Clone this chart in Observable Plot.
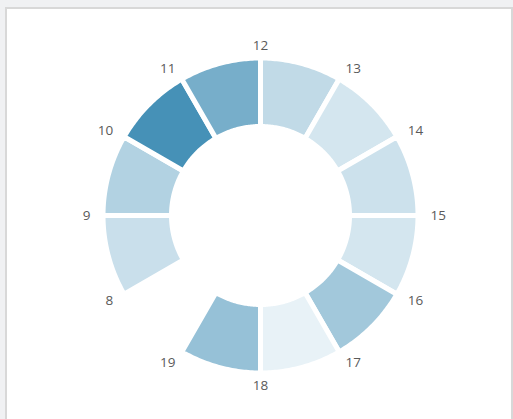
<!DOCTYPE html>
<html>
<head>
<meta charset="utf-8">
<script src="https://cdn.jsdelivr.net/npm/d3@7"></script>
<script src="https://cdn.jsdelivr.net/npm/@observablehq/plot@0.6"></script>
<style>
  html, body { margin: 0; padding: 0; background: #f0f1f3; width: 513px; height: 419px; overflow: hidden; }
  #panel { position: absolute; left: 5px; top: 7px; right: 0px; height: 440px; background: #fff; border: 2px solid #d8d8d8; border-bottom: none; box-sizing: border-box; }
  #chart { position: absolute; left: 0; top: 0; }
</style>
</head>
<body>
<div id="panel"></div>
<div id="chart"></div>
<script>
// Hours of the day (segment h spans h -> h+1); hour 19 has no data
const hours  = [8, 9, 10, 11, 12, 13, 14, 15, 16, 17, 18];
const values = [20, 34, 100, 70, 25, 13, 18, 13, 44, 1, 51];
// Tick labels around the ring
const tickHours = [8, 9, 10, 11, 12, 13, 14, 15, 16, 17, 18, 19];

const W = 513, H = 419;
const cx = 260, cy = 215;          // ring centre in pixels
const rOuter = 157.5, rInner = 89, rLabel = 170;
const angleOf = h => (h - 12) * Math.PI / 6;   // clockwise from top

// Build polygon outlines of each ring segment from the data
const poly = [];
hours.forEach((h, i) => {
  const a0 = angleOf(h), a1 = angleOf(h + 1), n = 40;
  for (let k = 0; k <= n; k++) {
    const a = a0 + (a1 - a0) * k / n;
    poly.push({id: h, value: values[i], x: rOuter * Math.sin(a), y: rOuter * Math.cos(a)});
  }
  for (let k = n; k >= 0; k--) {
    const a = a0 + (a1 - a0) * k / n;
    poly.push({id: h, value: values[i], x: rInner * Math.sin(a), y: rInner * Math.cos(a)});
  }
});

const labels = tickHours.map(h => {
  const a = angleOf(h), s = Math.sin(a);
  return {
    h, x: rLabel * s, y: rLabel * Math.cos(a),
    anchor: Math.abs(s) < 0.01 ? "middle" : (s > 0 ? "start" : "end")
  };
});

const chart = Plot.plot({
  width: W, height: H,
  margin: 0,
  x: {domain: [-cx, W - cx], axis: null},
  y: {domain: [-(H - cy), cy], axis: null},
  color: {type: "linear", domain: d3.extent(values), range: ["#e8f2f7", "#4691b7"]},
  style: {background: "transparent", fontFamily: "'Open Sans', sans-serif"},
  marks: [
    Plot.line(poly, {x: "x", y: "y", z: "id", fill: "value", stroke: "white", strokeWidth: 5, curve: "linear-closed"}),
    Plot.text(labels.filter(d => d.anchor === "start"), {x: "x", y: "y", text: d => String(d.h), textAnchor: "start", fill: "#5a5a5a", fontSize: 13.5}),
    Plot.text(labels.filter(d => d.anchor === "end"), {x: "x", y: "y", text: d => String(d.h), textAnchor: "end", fill: "#5a5a5a", fontSize: 13.5}),
    Plot.text(labels.filter(d => d.anchor === "middle"), {x: "x", y: "y", text: d => String(d.h), textAnchor: "middle", fill: "#5a5a5a", fontSize: 13.5})
  ]
});
document.getElementById("chart").appendChild(chart);
</script>
</body>
</html>
